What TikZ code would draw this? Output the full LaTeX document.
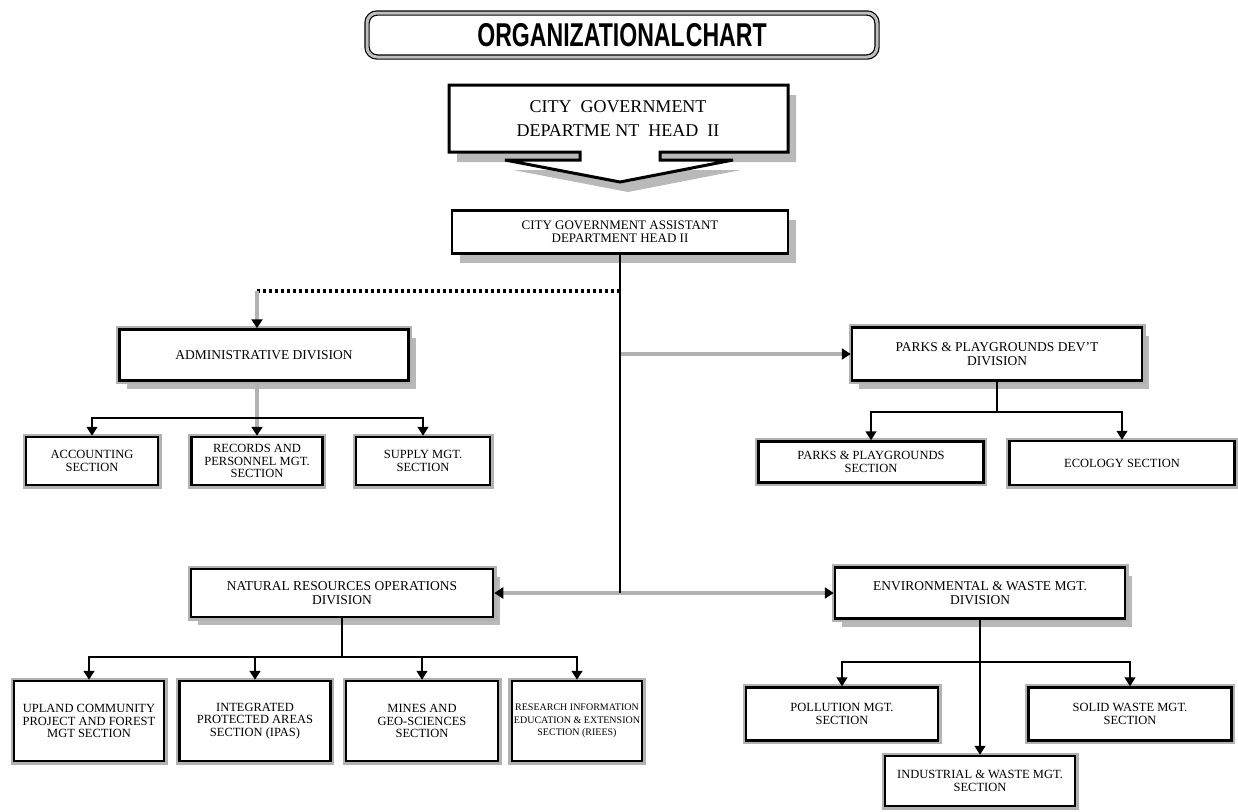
\documentclass[tikz,border=0pt]{standalone}
\usepackage{graphicx}
\usepackage{fontspec}
\setmainfont{Liberation Serif}
\newfontfamily\titlefont{Liberation Sans}
\usetikzlibrary{arrows.meta,shadows}

\tikzset{
  boxtext/.style={align=center, inner sep=2pt, font=\fontsize{12.5}{12.5}\selectfont},
  headbox/.style={boxtext, draw, line width=2.5pt, fill=white,
    drop shadow={shadow xshift=8pt, shadow yshift=-9pt, fill=gray!55, opacity=1}},
  divbox/.style={boxtext, draw, line width=2.5pt, fill=white, font=\fontsize{13.5}{13.5}\selectfont,
    drop shadow={shadow xshift=7pt, shadow yshift=-8pt, fill=gray!55, opacity=1},
    preaction={draw=gray!60, line width=7pt}},
  secbox/.style={boxtext, draw, line width=2.5pt, fill=white,
    preaction={draw=gray!60, line width=7pt}},
  titlebox/.style={draw, rounded corners=10pt, line width=1.2pt, double=gray!50,
    double distance=3pt, minimum width=510pt, minimum height=44pt},
  pipe/.style={draw=gray!60, line width=4pt, -{Triangle[length=9pt,width=11pt,black]}},
  branch/.style={line width=1.5pt, -{Triangle[length=9pt,width=11pt]}},
  trunk/.style={line width=2pt},
  dotline/.style={line width=4pt, dash pattern=on 3pt off 3pt},
}

\begin{document}
\begin{tikzpicture}[x=1pt,y=-1pt]
\useasboundingbox (0,0) rectangle (1238,811);

\node[titlebox] (title) at (622,35)
  {\titlefont\bfseries\fontsize{33}{33}\selectfont\scalebox{0.7}[1]{ORGANIZATIONAL\hspace{0.05em}CHART}};

\fill[gray!55, shift={(8,10)}] (449,85) -- (788,85) -- (788,152) -- (660,152) -- (660,160)
  -- (733,160) -- (620,182) -- (505,160) -- (580,160) -- (580,152) -- (449,152) -- cycle;
\filldraw[fill=white, line width=3pt] (449,85) -- (788,85) -- (788,152) -- (660,152) -- (660,160)
  -- (733,160) -- (620,182) -- (505,160) -- (580,160) -- (580,152) -- (449,152) -- cycle;
\node[align=center, font=\fontsize{18}{24}\selectfont] (head) at (618,119)
  {CITY\ \ GOVERNMENT\\DEPARTME NT\ \ HEAD\ \ II};

\node[headbox, minimum width=336pt, minimum height=43pt, font=\fontsize{13}{13}\selectfont] (asst) at (620,232)
  {CITY GOVERNMENT ASSISTANT\\DEPARTMENT HEAD II};

\node[divbox, minimum width=289pt, minimum height=51pt] (admin) at (264,355) {ADMINISTRATIVE DIVISION};
\node[secbox, minimum width=132pt, minimum height=48pt] (acc) at (92,461) {ACCOUNTING\\SECTION};
\node[secbox, minimum width=131pt, minimum height=48pt] (rec) at (257,461) {RECORDS AND\\PERSONNEL MGT.\\SECTION};
\node[secbox, minimum width=134pt, minimum height=48pt] (sup) at (423,461) {SUPPLY MGT.\\SECTION};

\node[divbox, minimum width=290pt, minimum height=53pt] (parks) at (997,354) {PARKS \& PLAYGROUNDS DEV'T\\DIVISION};
\node[secbox, minimum width=225pt, minimum height=41pt] (pps) at (871,462) {PARKS \& PLAYGROUNDS\\SECTION};
\node[secbox, minimum width=225pt, minimum height=44pt] (eco) at (1122,463) {ECOLOGY SECTION};

\node[divbox, minimum width=302pt, minimum height=48pt] (nr) at (342,593) {NATURAL RESOURCES OPERATIONS\\DIVISION};
\node[secbox, minimum width=150pt, minimum height=80pt] (upl) at (89,721) {UPLAND COMMUNITY\\PROJECT AND FOREST\\MGT SECTION};
\node[secbox, minimum width=151pt, minimum height=80pt] (intg) at (255,721) {INTEGRATED\\PROTECTED AREAS\\SECTION (IPAS)};
\node[secbox, minimum width=152pt, minimum height=80pt] (mines) at (422,721) {MINES AND\\GEO-SCIENCES\\SECTION};
\node[secbox, minimum width=125pt, minimum height=80pt, font=\fontsize{10}{12.5}\selectfont] (res) at (577,721)
  {RESEARCH INFORMATION\\EDUCATION \& EXTENSION\\SECTION (RIEES)};

\node[divbox, minimum width=290pt, minimum height=51pt] (env) at (980,593) {ENVIRONMENTAL \& WASTE MGT.\\DIVISION};
\node[secbox, minimum width=192pt, minimum height=53pt] (pol) at (842,714) {POLLUTION MGT.\\SECTION};
\node[secbox, minimum width=203pt, minimum height=53pt] (sol) at (1130,714) {SOLID WASTE MGT.\\SECTION};
\node[secbox, minimum width=190pt, minimum height=50pt] (ind) at (980,781) {INDUSTRIAL \& WASTE MGT.\\SECTION};

\coordinate (j0) at (257,291);
\coordinate (j1) at (620,291);
\coordinate (j2) at (620,354);
\coordinate (j3) at (620,593);
\coordinate (abar) at (257,418);
\coordinate (pbar) at (0,412);
\coordinate (nbar) at (0,657);
\coordinate (ebar) at (0,662);

\draw[dotline] (j1) -- (j0);
\draw[pipe] (j0) -- (j0 |- admin.north);
\draw[pipe] (j2) -- (parks.west);
\draw[pipe] (j3) -- (nr.east);
\draw[pipe] (j3) -- (env.west);
\draw[trunk] (asst.south) -- (j3);

\draw[pipe] (j0 |- admin.south) -- (rec.north);
\draw[branch] (abar) -| (acc.north);
\draw[branch] (abar) -| (sup.north);

\foreach \s in {pps,eco}
  \draw[branch] (parks.south) |- (pbar -| \s.north) -- (\s.north);
\foreach \s in {upl,intg,mines,res}
  \draw[branch] (nr.south) |- (nbar -| \s.north) -- (\s.north);
\foreach \s in {pol,sol}
  \draw[branch] (env.south) |- (ebar -| \s.north) -- (\s.north);
\draw[branch] (env.south) -- (ind.north);
\end{tikzpicture}
\end{document}
